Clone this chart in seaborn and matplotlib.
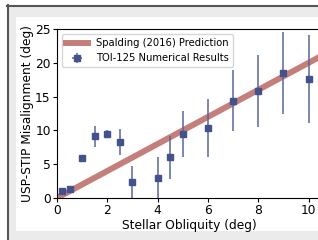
import matplotlib
matplotlib.use("Agg")
import matplotlib.pyplot as plt
from matplotlib.patches import Rectangle
from matplotlib.lines import Line2D
import seaborn as sns
import numpy as np

# ---- data ----
obliquity = [0.2, 0.5, 1.0, 1.5, 2.0, 2.5, 3.0, 4.0, 4.5, 5.0, 6.0, 7.0, 8.0, 9.0, 10.0]
misalign = [1.0, 1.3, 5.9, 9.1, 9.5, 8.3, 2.4, 3.0, 6.0, 9.5, 10.3, 14.4, 15.8, 18.5, 17.6]
misalign_err = [0.3, 0.3, 0.2, 1.5, 0.5, 1.9, 2.4, 3.0, 3.2, 3.4, 4.3, 4.5, 5.3, 6.0, 6.5]
pred_x = [0.0, 11.0]
pred_y = [0.0, 22.0]
xticks = [0, 2, 4, 6, 8, 10]
yticks = [0, 5, 10, 15, 20, 25]

W, H = 318, 240
fs = 8.8
plt.rcParams.update({
    "font.family": ["DejaVu Sans"],
    "font.size": fs,
    "axes.labelsize": fs,
    "xtick.labelsize": fs,
    "ytick.labelsize": fs,
    "legend.fontsize": 7.2,
})

fig = plt.figure(figsize=(W / 100, H / 100), dpi=100, facecolor="white")

# notebook-style frame decoration
def fx(px):
    return px / W

def fy(py):
    return 1 - py / H

fig.patches.append(Rectangle((fx(8), 0), 1 - fx(8), fy(7), transform=fig.transFigure,
                             facecolor="#ebebeb", edgecolor="none", zorder=-10))
fig.patches.append(Rectangle((fx(16), fy(231)), 1 - fx(16), fy(17) - fy(231),
                             transform=fig.transFigure, facecolor="white",
                             edgecolor="none", zorder=-9))
fig.lines.append(Line2D([fx(7.5), fx(7.5)], [0, fy(5)], transform=fig.transFigure,
                        color="#555555", lw=1.5, zorder=-8))
fig.lines.append(Line2D([fx(7), 1], [fy(6), fy(6)], transform=fig.transFigure,
                        color="#555555", lw=1.5, zorder=-8))

ax = fig.add_axes([fx(57), fy(198), 1 - fx(57) + 0.01, fy(29) - fy(198)])

sns.lineplot(x=pred_x, y=pred_y, ax=ax, color="#bf716c", lw=4.3, alpha=0.9,
             label="Spalding (2016) Prediction", zorder=1)

ax.errorbar(obliquity, misalign, yerr=misalign_err, xerr=0, fmt="s",
            color="#44528c", ms=4.2, ecolor="#5a679a", elinewidth=1.1,
            label="TOI-125 Numerical Results", zorder=3)

ax.set_xlim(0, 10.5)
ax.set_ylim(0, 25)
ax.set_xticks(xticks)
ax.set_yticks(yticks)
ax.spines["right"].set_visible(False)
ax.set_xlabel("Stellar Obliquity (deg)", labelpad=1)
ax.set_ylabel("USP-STIP Misalignment (deg)", labelpad=1)
ax.tick_params(length=3, width=0.8, pad=1.5)
ax.legend(loc="upper left", handlelength=2.2)

fig.savefig("out.png", dpi=100)
